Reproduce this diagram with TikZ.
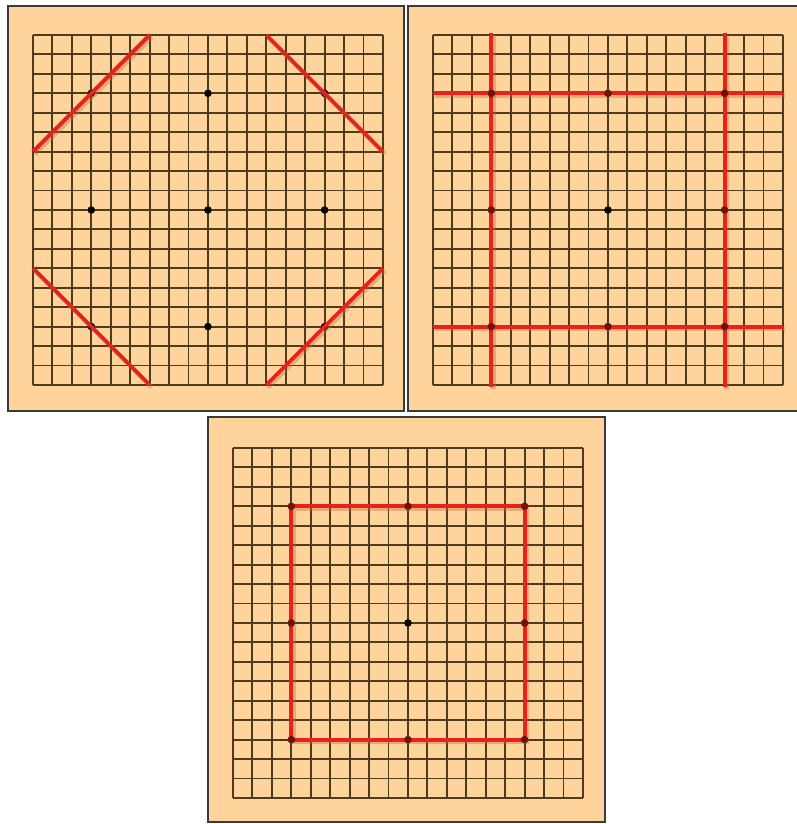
\documentclass[tikz,border=0pt]{standalone}
\definecolor{boardc}{RGB}{255,212,156}
\definecolor{gridc}{RGB}{78,58,30}
\definecolor{redl}{RGB}{230,34,26}
\definecolor{framec}{RGB}{58,58,58}
\definecolor{shadowc}{RGB}{185,110,60}
\definecolor{darkred}{RGB}{110,20,12}
\tikzset{
  boardframe/.style={fill=boardc, draw=framec, line width=2.4pt},
  gridline/.style={draw=gridc, line width=1.9pt},
  redline/.style={draw=redl, line width=3.8pt},
  redshadow/.style={draw=shadowc, line width=4.5pt, opacity=0.4},
  stardot/.style={fill=black},
  reddot/.style={fill=darkred}
}
\begin{document}
\begin{tikzpicture}[x=1pt,y=-1pt]
\useasboundingbox (0,0) rectangle (796,824);
\fill[white] (0,0) rectangle (796,824);

% ---------- Board 1 ----------
\draw[boardframe] (8,6) rectangle (404,411);
\begin{scope}[shift={(33,35)}, x=19.44pt, y=-19.44pt]
  \foreach \i in {0,...,18} {
    \draw[gridline] (\i,0) -- (\i,18);
    \draw[gridline] (0,\i) -- (18,\i);
  }
  \foreach \a in {3,9,15} \foreach \b in {3,9,15}
    \fill[stardot] (\a,\b) circle[radius=3.8pt];
  \foreach \p/\q in {{(6,0)}/{(0,6)}, {(12,0)}/{(18,6)}, {(0,12)}/{(6,18)}, {(12,18)}/{(18,12)}} {
    \draw[redshadow, shift={(0.1,0.12)}] \p -- \q;
    \draw[redline] \p -- \q;
  }
\end{scope}

% ---------- Board 2 ----------
\draw[boardframe] (408,6) rectangle (800,411);
\begin{scope}[shift={(433,35)}, x=19.44pt, y=-19.44pt]
  \foreach \i in {0,...,18} {
    \draw[gridline] (\i,0) -- (\i,18);
    \draw[gridline] (0,\i) -- (18,\i);
  }
  \foreach \p/\q in {{(3,-0.1)}/{(3,18.1)}, {(15,-0.1)}/{(15,18.1)}, {(0,3)}/{(18,3)}, {(0,15)}/{(18,15)}}
    \draw[redshadow, shift={(0.1,0.12)}] \p -- \q;
  \foreach \p/\q in {{(3,-0.1)}/{(3,18.1)}, {(15,-0.1)}/{(15,18.1)}, {(0,3)}/{(18,3)}, {(0,15)}/{(18,15)}}
    \draw[redline] \p -- \q;
  \foreach \a/\b in {3/3,9/3,15/3,3/9,15/9,3/15,9/15,15/15}
    \fill[reddot] (\a,\b) circle[radius=3.8pt];
  \fill[stardot] (9,9) circle[radius=3.8pt];
\end{scope}

% ---------- Board 3 ----------
\draw[boardframe] (208,417) rectangle (605,822);
\begin{scope}[shift={(233,448)}, x=19.44pt, y=-19.44pt]
  \foreach \i in {0,...,18} {
    \draw[gridline] (\i,0) -- (\i,18);
    \draw[gridline] (0,\i) -- (18,\i);
  }
  \draw[redshadow, shift={(0.1,0.12)}] (3,3) rectangle (15,15);
  \draw[redline] (3,3) rectangle (15,15);
  \foreach \a/\b in {3/3,9/3,15/3,3/9,15/9,3/15,9/15,15/15}
    \fill[reddot] (\a,\b) circle[radius=3.8pt];
  \fill[stardot] (9,9) circle[radius=3.8pt];
\end{scope}
\end{tikzpicture}
\end{document}
